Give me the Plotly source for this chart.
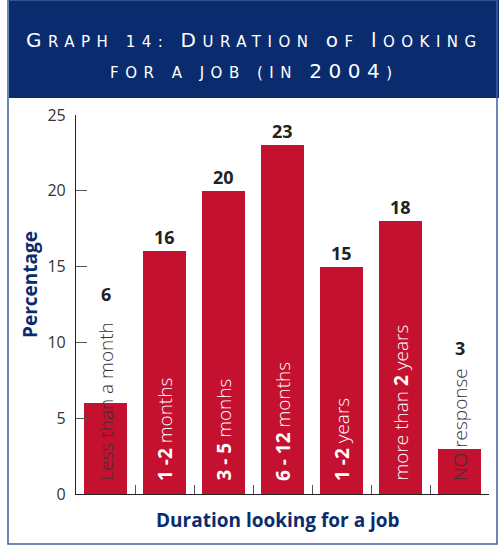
import plotly.graph_objects as go

# ---- data ----
categories = ["Less than a month", "1 -2 months", "3 - 5 monhs", "6 - 12 months",
              "1 -2 years", "more than 2 years", "NO response"]
cat_labels = ["Less than a month", "<b>1 -2</b> months", "<b>3 - 5</b> monhs",
              "<b>6 - 12</b> months", "<b>1 -2</b> years", "more than <b>2</b> years",
              "NO response"]
values = [6, 16, 20, 23, 15, 18, 3]
y_ticks = [0, 5, 10, 15, 20, 25]

# ---- style ----
BAR = "#c3112f"
NAVY = "#0a2c6e"
W, H = 500, 546
L, R, T, B = 76, 489, 115, 494  # plot area in pixels


def px(x):
    return (x - L) / (R - L)


def py(y):
    return (B - y) / (B - T)


dark_text = {0, 6}           # bars whose label is drawn in dark text
label_above_text = {0: 12.3, 6: 8.7}  # value label positions for those bars

fig = go.Figure()
fig.add_trace(go.Bar(
    x=list(range(len(values))), y=values, width=0.73,
    marker=dict(color=BAR, line=dict(width=0)),
    hoverinfo="skip", showlegend=False,
))

ann = []
for i, (lab, v) in enumerate(zip(cat_labels, values)):
    ann.append(dict(
        x=i, y=0, xref="x", yref="y", text=lab, showarrow=False,
        textangle=-90, xanchor="center", yanchor="bottom", yshift=11,
        font=dict(family="Open Sans", size=19, weight=300,
                  color="#333333" if i in dark_text else "white"),
    ))
    yv = label_above_text.get(i, v)
    ann.append(dict(
        x=i, y=yv, xref="x", yref="y", text=f"<b>{v}</b>", showarrow=False,
        xanchor="center", yanchor="bottom", yshift=0,
        font=dict(family="Open Sans", size=18, color="#222222"),
    ))

SP = "letter-spacing:6.5px"


def smallcaps(s, big=20):
    out = []
    for word in s.split(" "):
        if word and word[0].isalpha():
            out.append(f"<span style='font-size:{big}px'>{word[0]}</span>{word[1:].upper()}")
        else:
            out.append(word)
    return f"<span style='{SP}'>" + " ".join(out) + "</span>"


ann.append(dict(x=px(254), y=py(40), xref="paper", yref="paper", showarrow=False,
                text=smallcaps("Graph 14: Duration of looking"),
                font=dict(family="DejaVu Sans", size=15, color="white"),
                xanchor="center", yanchor="middle"))
ann.append(dict(x=px(254), y=py(71), xref="paper", yref="paper", showarrow=False,
                text=f"<span style='{SP}'>FOR A JOB (IN <span style='font-size:20px'>2004</span>)</span>",
                font=dict(family="DejaVu Sans", size=15, color="white"),
                xanchor="center", yanchor="middle"))

ann.append(dict(x=px(30), y=py(285), xref="paper", yref="paper", showarrow=False,
                text="<b>Percentage</b>", textangle=-90,
                font=dict(family="Open Sans", size=19, color=NAVY),
                xanchor="center", yanchor="middle"))
ann.append(dict(x=px(278), y=py(520), xref="paper", yref="paper", showarrow=False,
                text="<b>Duration looking for a job</b>",
                font=dict(family="Open Sans", size=19, color=NAVY),
                xanchor="center", yanchor="middle"))

shapes = [
    dict(type="rect", xref="paper", yref="paper", x0=px(9), x1=px(499), y0=py(98), y1=py(0),
         fillcolor=NAVY, line=dict(width=0), layer="below"),
    dict(type="rect", xref="paper", yref="paper", x0=px(8), x1=px(497), y0=py(544), y1=py(0),
         fillcolor="rgba(0,0,0,0)", line=dict(width=1.5, color="#3f5f9e"), layer="below"),
]

fig.update_layout(
    width=W, height=H, margin=dict(l=L, r=W - R, t=T, b=H - B),
    paper_bgcolor="white", plot_bgcolor="white",
    annotations=ann, shapes=shapes, bargap=0,
    xaxis=dict(range=[-0.5, len(values) - 0.5], tickvals=[i + 0.5 for i in range(len(values))],
               ticktext=[""] * len(values), ticks="inside", ticklen=9, tickcolor="#555555",
               showline=True, linecolor="#222222", linewidth=1.2, showgrid=False,
               zeroline=False, fixedrange=True),
    yaxis=dict(range=[0, 25], tickvals=y_ticks, ticks="inside", ticklen=11, tickcolor="#555555",
               showline=True, linecolor="#222222", linewidth=1.2, showgrid=False, zeroline=False,
               tickfont=dict(family="Open Sans", size=16, color="#333333"),
               ticklabelstandoff=6, fixedrange=True),
)

fig.write_html("out.html", config={"displayModeBar": False},
               post_script="document.body.style.margin='0';document.body.style.overflow='hidden';")
